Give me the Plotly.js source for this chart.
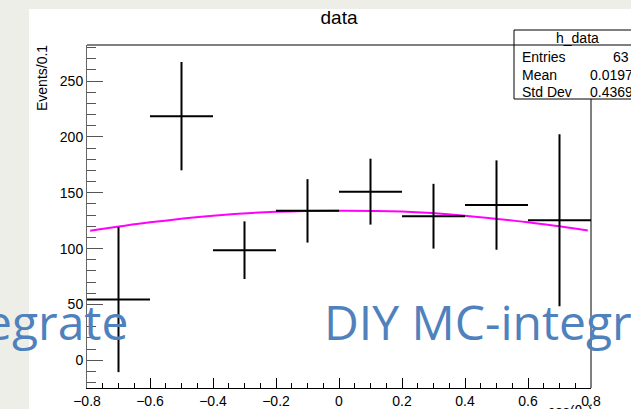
<!DOCTYPE html>
<html>
<head>
<meta charset="utf-8">
<script src="https://cdn.plot.ly/plotly-3.0.1.min.js"></script>
<style>
  html, body { margin:0; padding:0; width:631px; height:409px; overflow:hidden; background:#eeeee8; }
  #panel { position:absolute; left:29px; top:9px; right:0; bottom:0; background:#ffffff; }
  #chart { position:absolute; left:0; top:0; width:631px; height:409px; }
</style>
</head>
<body>
<div id="panel"></div>
<div id="chart"></div>
<script>
// Histogram "h_data": bin centres, contents and errors
const binCenters = [-0.7, -0.5, -0.3, -0.1, 0.1, 0.3, 0.5, 0.7];
const binHalfWidth = [0.1, 0.1, 0.1, 0.1, 0.1, 0.1, 0.1, 0.1];
const binCounts  = [54.4, 218.6, 98.6, 133.8, 151.0, 129.0, 139.0, 125.4];
const binErrors  = [65.0, 48.5, 25.8, 28.4, 29.5, 29.0, 40.0, 77.0];

// Fitted curve (magenta)
const fitX = [-0.79, -0.6, -0.4, -0.2, 0.0, 0.2, 0.4, 0.6, 0.79];
const fitY = [115.9, 123.5, 129.5, 133.0, 134.0, 133.2, 129.5, 123.5, 116.3];

// Axis ticks
const xTickVals = [-0.8, -0.6, -0.4, -0.2, 0, 0.2, 0.4, 0.6, 0.8];
const xTickText = ["\u22120.8", "\u22120.6", "\u22120.4", "\u22120.2", "0", "0.2", "0.4", "0.6", "0.8"];
const yTickVals = [0, 50, 100, 150, 200, 250];
const yTickText = ["0", "50", "100", "150", "200", "250"];

// Stat box texts
const statTitle = "h_data";
const statNames = ["Entries", "Mean", "Std Dev"];
const statValues = ["63", "0.0197", "0.4369"];

// Plot-area pixel geometry
const L = 87, R = 591, T = 45, B = 388, W = 631, H = 409;
const px = x => (x - L) / (R - L);
const py = y => (B - y) / (B - T);

const font = "Liberation Sans, Arial, Helvetica, sans-serif";

const traces = [
  {
    x: fitX, y: fitY, type: 'scatter', mode: 'lines',
    line: { color: '#ff00ff', width: 2, shape: 'spline' },
    hoverinfo: 'skip', showlegend: false
  },
  {
    x: binCenters, y: binCounts, type: 'scatter', mode: 'markers',
    marker: { size: 1, color: 'black', opacity: 0 },
    error_y: { type: 'data', array: binErrors, visible: true, color: 'black', thickness: 2, width: 0 },
    error_x: { type: 'data', array: binHalfWidth, visible: true, color: 'black', thickness: 2, width: 0 },
    showlegend: false
  }
];

const annotations = [
  { text: 'Events/0.1', xref: 'paper', yref: 'paper', x: px(42), y: py(43),
    xanchor: 'center', yanchor: 'top', textangle: -90, showarrow: false,
    font: { family: font, size: 14, color: 'black' } },
  { text: 'cos(θ<sub>h</sub>)', xref: 'paper', yref: 'paper', x: px(594), y: py(401),
    xanchor: 'right', yanchor: 'top', showarrow: false,
    font: { family: font, size: 14, color: 'black' } },
  { text: statTitle, xref: 'paper', yref: 'paper', x: px(577.7), y: py(38),
    xanchor: 'center', yanchor: 'middle', showarrow: false,
    font: { family: font, size: 14, color: 'black' } },
  { text: 'egrate', xref: 'paper', yref: 'paper', x: px(130), y: py(321),
    xanchor: 'right', yanchor: 'middle', showarrow: false,
    font: { family: 'Open Sans, sans-serif', size: 48, color: '#4f81bd' } },
  { text: 'DIY MC-integra', xref: 'paper', yref: 'paper', x: px(322), y: py(321),
    xanchor: 'left', yanchor: 'middle', showarrow: false,
    font: { family: 'Open Sans, sans-serif', size: 48, color: '#4f81bd' } }
];
const rowY = [56.5, 74.5, 92];
statNames.forEach((n, i) => {
  annotations.push({ text: n, xref: 'paper', yref: 'paper', x: px(520), y: py(rowY[i]),
    xanchor: 'left', yanchor: 'middle', showarrow: false,
    font: { family: font, size: 14, color: 'black' } });
});
const valX = [611, 587.5, 587.5];
statValues.forEach((v, i) => {
  annotations.push({ text: v, xref: 'paper', yref: 'paper', x: px(valX[i]), y: py(rowY[i]),
    xanchor: 'left', yanchor: 'middle', showarrow: false,
    font: { family: font, size: 14, color: 'black' } });
});

const shapes = [
  // top and right frame lines
  { type: 'line', xref: 'paper', yref: 'paper', x0: 0, x1: 1, y0: 1, y1: 1, line: { color: 'black', width: 1 } },
  { type: 'line', xref: 'paper', yref: 'paper', x0: 1, x1: 1, y0: 0, y1: 1, line: { color: 'black', width: 1 } },
  // stat box
  { type: 'rect', xref: 'paper', yref: 'paper', x0: px(514), x1: px(645), y0: py(99), y1: py(30),
    line: { color: 'black', width: 1 }, fillcolor: 'white', layer: 'above' },
  { type: 'line', xref: 'paper', yref: 'paper', x0: px(514), x1: px(645), y0: py(45), y1: py(45),
    line: { color: 'black', width: 1 } }
];

const layout = {
  width: W, height: H,
  margin: { l: L, r: W - R, t: T, b: H - B, pad: 0 },
  paper_bgcolor: 'rgba(0,0,0,0)',
  plot_bgcolor: 'rgba(0,0,0,0)',
  title: { text: 'data', font: { family: font, size: 19, color: 'black' },
           xref: 'paper', x: 0.5, xanchor: 'center', yref: 'container', y: 1 - 17 / H, yanchor: 'middle' },
  xaxis: {
    range: [-0.8, 0.8], tickvals: xTickVals, ticktext: xTickText,
    ticks: 'inside', ticklen: 10, tickcolor: 'black', tickwidth: 1,
    showline: true, linecolor: 'black', linewidth: 1,
    showgrid: false, zeroline: false,
    tickfont: { family: font, size: 14, color: 'black' },
    minor: { dtick: 0.05, tick0: 0, ticks: 'inside', ticklen: 5, tickcolor: 'black', tickwidth: 1, showgrid: false }
  },
  yaxis: {
    range: [-24.8, 282.3], tickvals: yTickVals, ticktext: yTickText,
    ticks: 'inside', ticklen: 16, tickcolor: '#555', tickwidth: 1,
    showline: true, linecolor: '#666', linewidth: 1,
    showgrid: false, zeroline: false,
    tickfont: { family: font, size: 14, color: 'black' },
    minor: { dtick: 10, tick0: 0, ticks: 'inside', ticklen: 9, tickcolor: '#555', tickwidth: 1, showgrid: false }
  },
  annotations: annotations,
  shapes: shapes,
  showlegend: false
};

Plotly.newPlot('chart', traces, layout, { staticPlot: true, displayModeBar: false });
</script>
</body>
</html>
